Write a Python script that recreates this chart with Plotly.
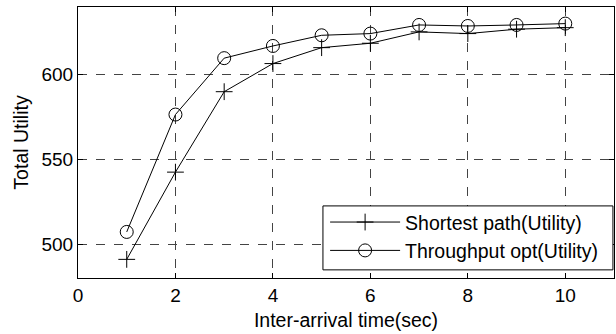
import plotly.graph_objects as go

x_vals = [1, 2, 3, 4, 5, 6, 7, 8, 9, 10]
shortest_path = [491, 542.5, 590, 606.6, 616, 618.6, 625.3, 624.3, 626.9, 627.8]
throughput_opt = [507.2, 576.5, 609.8, 617, 623.3, 624.3, 629.4, 628.8, 629.4, 630.2]
x_ticks = [0, 2, 4, 6, 8, 10]
y_ticks = [500, 550, 600]

font_family = "Liberation Sans, Arial, sans-serif"

fig = go.Figure()
fig.add_trace(go.Scatter(
    x=x_vals, y=shortest_path, mode="lines+markers", name="Shortest path(Utility)",
    line=dict(color="black", width=1),
    marker=dict(symbol="cross-thin-open", size=12, color="black", line=dict(color="black", width=1)),
))
fig.add_trace(go.Scatter(
    x=x_vals, y=throughput_opt, mode="lines+markers", name="Throughput opt(Utility)",
    line=dict(color="black", width=1),
    marker=dict(symbol="circle-open", size=13, color="black", line=dict(color="black", width=1)),
))

axis_common = dict(
    showline=True, linecolor="black", linewidth=1, mirror="ticks",
    ticks="inside", ticklen=5, tickcolor="black",
    showgrid=True, gridcolor="#444", griddash="dash", gridwidth=1,
    zeroline=False, tickfont=dict(size=19, color="black", family=font_family),
)

fig.update_xaxes(range=[0, 11], tickvals=x_ticks,
                 title=dict(text="Inter-arrival time(sec)", font=dict(size=19.5, color="black", family=font_family), standoff=8),
                 **axis_common)
fig.update_yaxes(range=[480, 640], tickvals=y_ticks,
                 title=dict(text="Total Utility", font=dict(size=19.5, color="black", family=font_family), standoff=7),
                 **axis_common)

# legend frame (white box with black border) drawn as a paper-space shape
fig.add_shape(type="rect", xref="paper", yref="paper",
              x0=0.457, x1=0.998, y0=0.03, y1=0.266,
              fillcolor="white", line=dict(color="black", width=1), layer="above")

fig.update_layout(
    width=616, height=334,
    margin=dict(l=78, r=2, t=7, b=56),
    plot_bgcolor="white", paper_bgcolor="white",
    font=dict(family=font_family, color="black"),
    legend=dict(x=0.461, y=0.03, xanchor="left", yanchor="bottom",
                bgcolor="rgba(0,0,0,0)", borderwidth=0,
                font=dict(size=19.5, color="black", family=font_family),
                itemwidth=70),
)

fig.write_html("out.html")
